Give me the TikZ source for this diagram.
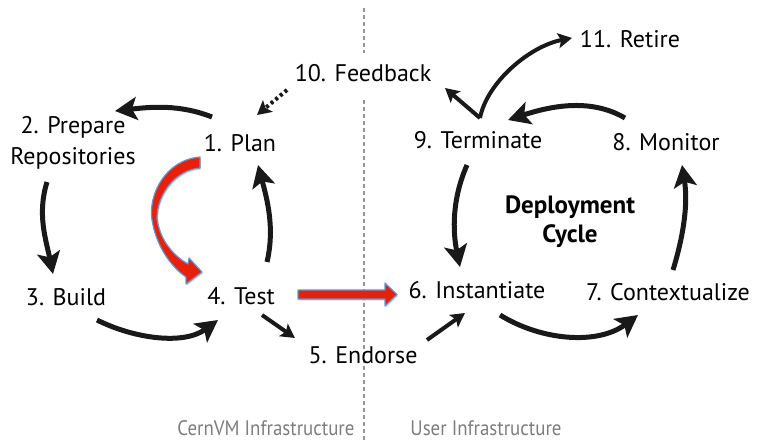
\documentclass[tikz,border=0pt]{standalone}
\usepackage{fontspec}
\setmainfont{PT Sans}
\usetikzlibrary{arrows.meta,shadows}
\definecolor{redfill}{RGB}{232,32,8}
\definecolor{blueline}{RGB}{100,150,210}
\definecolor{graytext}{RGB}{125,125,125}
\definecolor{dashgray}{RGB}{150,150,150}
\begin{document}
\begin{tikzpicture}[x=1pt,y=-1pt,
  lbl/.style={font=\fontsize{24}{31}\selectfont, inner sep=0pt, align=center},
  boldlbl/.style={font=\fontsize{25}{29}\selectfont\bfseries, inner sep=0pt, align=center},
  graylbl/.style={font=\fontsize{21}{25}\selectfont, inner sep=0pt, text=graytext, xscale=0.9, transform shape},
  arr/.style={line width=5pt, draw=black!90, -{Stealth[length=22pt,width=23pt,inset=5pt]}},
  thinarr/.style={line width=4pt, draw=black!90, -{Stealth[length=14pt,width=15pt,inset=3pt]}},
  dotarr/.style={line width=4pt, draw=black!90, dash pattern=on 3pt off 3pt, -{Stealth[length=14pt,width=15pt,inset=3pt]}},
  divider/.style={draw=dashgray, line width=1.6pt, dash pattern=on 4pt off 3pt},
  redarrow/.style={fill=redfill, draw=blueline, line width=1.2pt, line join=round,
    drop shadow={opacity=0.3, shadow xshift=1.2pt, shadow yshift=-1.5pt}}
]
\useasboundingbox (0,0) rectangle (757,442);

% divider
\coordinate (dtop) at (364,8);
\coordinate (dmid1) at (364,53);
\coordinate (dmid2) at (364,100);
\coordinate (dbot) at (364,442);
\draw[divider] (dtop) -- (dmid1);
\draw[divider] (dmid2) -- (dbot);

% labels
\node[lbl] (fb) at (363,73) {10. Feedback};
\node[lbl] (retire) at (630,39) {11. Retire};
\node[lbl] (prep) at (73,143) {2. Prepare\\Repositories};
\node[lbl] (plan) at (240,143) {1. Plan};
\node[lbl] (term) at (478,140) {9. Terminate};
\node[lbl] (mon) at (666,142) {8. Monitor};
\node[boldlbl] (dc) at (570,222) {Deployment\\Cycle};
\node[lbl] (build) at (66,297) {3. Build};
\node[lbl] (test) at (241,296) {4. Test};
\node[lbl] (inst) at (477,290) {6. Instantiate};
\node[lbl] (ctx) at (668,292) {7. Contextualize};
\node[lbl] (endorse) at (363,355) {5. Endorse};
\node[graylbl] (cern) at (266,428) {CernVM Infrastructure};
\node[graylbl] (user) at (486,428) {User Infrastructure};

% left cycle
\draw[arr] ([shift={(-28,-26)}]plan.center) .. controls (179,104) and (150,107) .. ([shift={(42,-32)}]prep.center);
\draw[arr] ([shift={(-26,39)}]prep.center) .. controls (37,214) and (46,240) .. ([shift={(-13,-23)}]build.center);
\draw[arr] ([shift={(31,23)}]build.center) .. controls (135,339) and (184,345) .. ([shift={(-23,24)}]test.center);
\draw[arr] ([shift={(26,-34)}]test.center) .. controls (275,228) and (267,199) .. ([shift={(18,22)}]plan.center);
\draw[thinarr] ([shift={(21,19)}]test.center) -- ([shift={(-68,-17)}]endorse.center);
\draw[dotarr] ([shift={(-76,17)}]fb.center) -- ([shift={(17,-28)}]plan.center);

% right cycle
\draw[arr] ([shift={(-41,-24)}]mon.center) .. controls (589,97) and (548,107) .. ([shift={(30,-20)}]term.center);
\draw[arr] ([shift={(-11,25)}]term.center) .. controls (452,199) and (452.6,231) .. ([shift={(-17,-23)}]inst.center);
\draw[arr] ([shift={(23,25)}]inst.center) .. controls (542,341) and (598,345) .. ([shift={(-30,23)}]ctx.center);
\draw[arr] ([shift={(5,-22)}]ctx.center) .. controls (684,234) and (688,203) .. ([shift={(16,23)}]mon.center);
\draw[thinarr] ([shift={(64,-15)}]endorse.center) -- ([shift={(-12,23)}]inst.center);
\draw[thinarr] ([shift={(2,-22)}]term.center) -- ([shift={(82,15)}]fb.center);
\draw[thinarr] ([shift={(2,-22)}]term.center) .. controls (487,82) and (530,46) .. ([shift={(-58,-1)}]retire.center);

% red curved arrow (plan -> test)
\path[redarrow] (200,157) .. controls (165,160) and (148,195) .. (152,220)
  .. controls (156,245) and (170,266) .. (186,277)
  -- (186,284) -- (202,272) -- (189,258) -- (188,264)
  .. controls (172,255) and (159,238) .. (157,218)
  .. controls (157,195) and (175,170) .. (200,168) -- cycle;

% red straight arrow (test -> instantiate)
\path[redarrow] (298,290) -- (385,290) -- (385,283) -- (397,294.5) -- (385,306) -- (385,299) -- (298,299) -- cycle;
\end{tikzpicture}
\end{document}
